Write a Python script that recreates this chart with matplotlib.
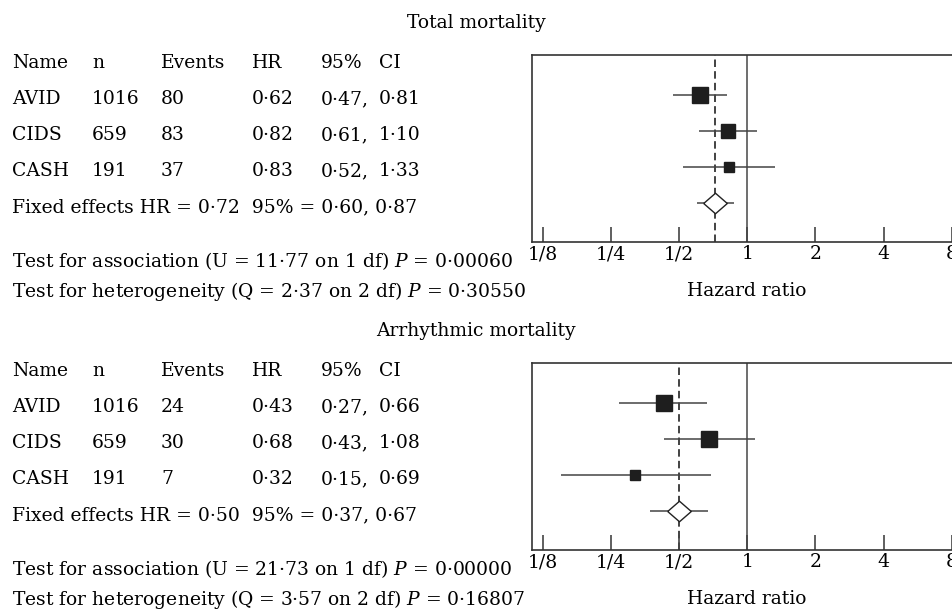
import matplotlib.pyplot as plt
import numpy as np

plt.rcParams['font.family'] = 'DejaVu Serif'
plt.rcParams['mathtext.fontset'] = 'dejavuserif'

W, H = 953, 610
FS = 13.5

names = ['AVID', 'CIDS', 'CASH']
n = [1016, 659, 191]

total_events = [80, 83, 37]
total_hr = [0.62, 0.82, 0.83]
total_lo = [0.47, 0.61, 0.52]
total_hi = [0.81, 1.10, 1.33]
total_fixed = [0.72, 0.60, 0.87]
total_tests = [11.77, 0.00060, 2.37, 0.30550]

arr_events = [24, 30, 7]
arr_hr = [0.43, 0.68, 0.32]
arr_lo = [0.27, 0.43, 0.15]
arr_hi = [0.66, 1.08, 0.69]
arr_fixed = [0.50, 0.37, 0.67]
arr_tests = [21.73, 0.00000, 3.57, 0.16807]

tick_vals = [1/8, 1/4, 1/2, 1, 2, 4, 8]
tick_labels = ['1/8', '1/4', '1/2', '1', '2', '4', '8']


def dot(v, d=2):
    return f'{v:.{d}f}'.replace('.', '·')


def txt(fig, x, y, s, **kw):
    fig.text(x / W, 1 - y / H, s, fontsize=FS, va='baseline', **kw)


def panel(fig, off, title, events, hr, lo, hi, fixed, tests):
    txt(fig, 476, 28 + off, title, ha='center')

    cols = [12, 92, 161, 252, 321, 379]
    for x, s in zip(cols, ['Name', 'n', 'Events', 'HR', '95%', 'CI']):
        txt(fig, x, 68 + off, s)
    for i in range(len(names)):
        y = 104 + 36 * i + off
        row = [names[i], str(n[i]), str(events[i]), dot(hr[i]),
               dot(lo[i]) + ',', dot(hi[i])]
        for x, s in zip(cols, row):
            txt(fig, x, y, s)
    txt(fig, 12, 212 + off, 'Fixed effects HR = %s  95%% = %s, %s'
        % (dot(fixed[0]), dot(fixed[1]), dot(fixed[2])))
    txt(fig, 12, 267 + off, 'Test for association (U = %s on 1 df) $P$ = %s'
        % (dot(tests[0]), dot(tests[1], 5)))
    txt(fig, 12, 297 + off, 'Test for heterogeneity (Q = %s on 2 df) $P$ = %s'
        % (dot(tests[2]), dot(tests[3], 5)))
    txt(fig, 747, 296 + off, 'Hazard ratio', ha='center')

    # forest plot box
    left, right, top, bottom = 532.3, 962, 55 + off, 242 + off
    ax = fig.add_axes([left / W, 1 - bottom / H, (right - left) / W, (bottom - top) / H])
    ax.set_xscale('log', base=2)
    ax.set_xlim(2 ** (-3 - 10.7 / 68), 2 ** (3 + (right - 951.7) / 68))
    ax.set_ylim((187 - 40) / 36, -40 / 36)

    hr = np.array(hr)
    lo = np.array(lo)
    hi = np.array(hi)
    w = 1 / (np.log(hi) - np.log(lo))
    sizes = 11.5 * w / w.max()
    rows = np.arange(len(hr))

    ax.axvline(1, color='#555555', lw=1.2, zorder=1)
    ax.axvline(fixed[0], color='#222222', lw=1.2, ls=(0, (4.5, 2.5)), zorder=1)
    ax.hlines(rows, lo, hi, color='#444444', lw=1.1, zorder=2)
    for i in rows:
        ax.plot(hr[i], i, marker='s', ms=sizes[i], color='#1e1e1e', mec='#1e1e1e', zorder=3)

    ax.hlines(3, fixed[1], fixed[2], color='#444444', lw=1.1, zorder=2)
    diamond = [(-1, 0), (0, 0.87), (1, 0), (0, -0.87), (-1, 0)]
    ax.plot(fixed[0], 3, marker=diamond, ms=17, mfc='white', mec='#222222', mew=1.0, zorder=3)

    ax.set_xticks(tick_vals)
    ax.set_xticklabels(tick_labels)
    ax.minorticks_off()
    ax.set_yticks([])
    ax.tick_params(axis='x', direction='in', length=10.8, width=1.2, color='#444444',
                   labelsize=FS, pad=2.5)
    for s in ['top', 'left', 'bottom']:
        ax.spines[s].set_linewidth(1.2)
        ax.spines[s].set_color('#333333')
    ax.spines['right'].set_visible(False)


fig = plt.figure(figsize=(W / 100, H / 100), dpi=100)
panel(fig, 0, 'Total mortality', total_events, total_hr, total_lo, total_hi,
      total_fixed, total_tests)
panel(fig, 308, 'Arrhythmic mortality', arr_events, arr_hr, arr_lo, arr_hi,
      arr_fixed, arr_tests)
fig.savefig('out.png', dpi=100)
